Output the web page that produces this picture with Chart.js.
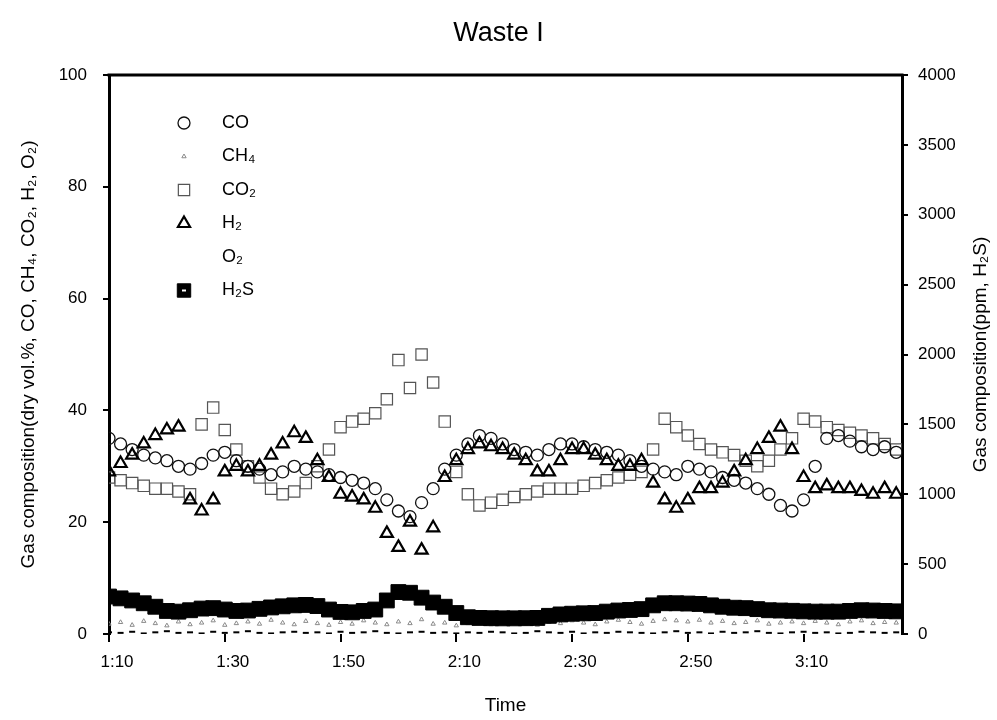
<!DOCTYPE html>
<html><head><meta charset="utf-8">
<script src="https://cdn.jsdelivr.net/npm/chart.js@4.4.0/dist/chart.umd.min.js"></script>
<style>html,body{margin:0;padding:0;background:#fff;}#wrap{width:997px;height:720px;}</style>
</head><body><div id="wrap"><canvas id="c" width="997" height="720"></canvas></div>
<script>
const chartTitle = 'Waste I';
const xAxisTitle = 'Time';
const leftAxisTitle = 'Gas composition(dry vol.%, CO, CH\u2084, CO\u2082, H\u2082, O\u2082)';
const rightAxisTitle = 'Gas composition(ppm, H\u2082S)';
const seriesNames = ['CO', 'CH\u2084', 'CO\u2082', 'H\u2082', 'O\u2082', 'H\u2082S'];
const xTickLabels = ['1:10', '1:30', '1:50', '2:10', '2:30', '2:50', '3:10'];

// minutes after midnight (1:10 = 70)
const times = [70,72,74,76,78,80,82,84,86,88,
  90,92,94,96,98,100,102,104,106,108,
  110,112,114,116,118,120,122,124,126,128,
  130,132,134,136,138,140,142,144,146,148,
  150,152,154,156,158,160,162,164,166,168,
  170,172,174,176,178,180,182,184,186,188,
  190,192,194,196,198,200,202,204,206];

const co = [35,34,33,32,31.5,31,30,29.5,30.5,32,
  32.5,31,30,29.5,28.5,29,30,29.5,29,28.5,
  28,27.5,27,26,24,22,21,23.5,26,29.5,
  32,34,35.5,35,34,33,32.5,32,33,34,
  34,33.5,33,32.5,32,31,30,29.5,29,28.5,
  30,29.5,29,28,27.5,27,26,25,23,22,
  24,30,35,35.5,34.5,33.5,33,33.5,32.5];

const ch4 = [1.8,2.1,1.6,2.3,1.9,1.5,2.2,1.7,2.0,2.4,
  1.6,1.9,2.2,1.8,2.5,2.0,1.7,2.3,1.9,1.6,
  2.1,1.8,2.4,2.0,1.7,2.2,1.9,2.6,1.8,2.0,
  1.5,1.9,2.2,1.7,2.0,2.3,1.8,1.6,2.1,1.9,
  2.4,2.0,1.7,2.2,2.5,2.1,1.8,2.3,2.6,2.4,
  2.2,2.5,2.0,2.3,1.9,2.1,2.4,1.8,2.0,2.2,
  1.9,2.3,2.0,1.7,2.2,2.4,1.9,2.1,2.0];

const co2 = [28,27.5,27,26.5,26,26,25.5,25,37.5,40.5,
  36.5,33,30,28,26,25,25.5,27,30,33,
  37,38,38.5,39.5,42,49,44,50,45,38,
  29,25,23,23.5,24,24.5,25,25.5,26,26,
  26,26.5,27,27.5,28,28.5,29,33,38.5,37,
  35.5,34,33,32.5,32,31,30,31,33,35,
  38.5,38,37,36.5,36,35.5,35,34,33];

const h2 = [29,30.5,32,34,35.5,36.5,37,24,22,24,
  29,30,29,30,32,34,36,35,31,28,
  25,24.5,24,22.5,18,15.5,20,15,19,28,
  31,33,34,33.5,33,32,31,29,29,31,
  33,33,32,31,30,30,31,27,24,22.5,
  24,26,26,27,29,31,33,35,37,33,
  28,26,26.5,26,26,25.5,25,26,25];

const o2 = [0.3,0.2,0.4,0.1,0.3,0.5,0.2,0.3,0.1,0.4,
  0.2,0.3,0.5,0.2,0.1,0.3,0.4,0.2,0.3,0.1,
  0.4,0.2,0.3,0.5,0.2,0.1,0.3,0.4,0.2,0.3,
  0.1,0.3,0.2,0.4,0.3,0.1,0.2,0.5,0.3,0.2,
  0.4,0.1,0.3,0.2,0.4,0.3,0.2,0.1,0.3,0.5,
  0.2,0.3,0.1,0.4,0.2,0.3,0.5,0.2,0.1,0.3,
  0.4,0.2,0.3,0.1,0.2,0.4,0.3,0.2,0.3];

// ppm, right axis
const h2s = [268,255,240,220,195,165,160,170,182,185,
  175,165,168,180,190,198,205,208,200,175,
  158,155,165,175,240,300,295,260,225,195,
  150,120,115,113,112,112,113,115,130,140,
  145,148,150,160,168,172,178,205,220,220,
  218,215,205,195,188,185,178,170,168,166,
  162,160,160,160,165,170,168,165,162];

const FONT = 'Liberation Sans, Arial, sans-serif';
const toMin = s => { const p = s.split(':'); return (+p[0]) * 60 + (+p[1]); };
const pts = arr => times.map((t, i) => ({x: t, y: arr[i]}));

const styles = [
  {pointStyle: 'circle', radius: 6, borderColor: '#111', bg: 'rgba(0,0,0,0)', bw: 1.3},
  {pointStyle: 'triangle', radius: 2.5, borderColor: '#8a8a8a', bg: 'rgba(0,0,0,0)', bw: 1},
  {pointStyle: 'rect', radius: 8, borderColor: '#555', bg: 'rgba(0,0,0,0)', bw: 1.2},
  {pointStyle: 'triangle', radius: 7, borderColor: '#000', bg: 'rgba(0,0,0,0)', bw: 2.2},
  {pointStyle: 'line', radius: 3, borderColor: '#000', bg: '#000', bw: 2},
  {pointStyle: 'rect', radius: 10.5, borderColor: '#000', bg: '#000', bw: 1}
];
const values = [co, ch4, co2, h2, o2, h2s];

const datasets = values.map((arr, i) => ({
  label: seriesNames[i],
  data: pts(arr),
  yAxisID: i === 5 ? 'y2' : 'y',
  pointStyle: styles[i].pointStyle,
  pointRadius: styles[i].radius,
  pointBorderColor: styles[i].borderColor,
  pointBackgroundColor: styles[i].bg,
  pointBorderWidth: styles[i].bw,
  showLine: false,
  order: [3, 5, 4, 2, 6, 1][i]
}));

function marker(ctx, st, x, y) {
  ctx.save();
  ctx.lineWidth = st.bw;
  ctx.strokeStyle = st.borderColor;
  ctx.fillStyle = st.bg;
  const r = st.radius;
  ctx.beginPath();
  if (st.pointStyle === 'circle') {
    ctx.arc(x, y, r, 0, Math.PI * 2);
  } else if (st.pointStyle === 'triangle') {
    ctx.moveTo(x, y - r);
    ctx.lineTo(x + r * 0.866, y + r * 0.5);
    ctx.lineTo(x - r * 0.866, y + r * 0.5);
    ctx.closePath();
  } else if (st.pointStyle === 'rect') {
    const s = r * Math.SQRT1_2;
    ctx.rect(x - s, y - s, 2 * s, 2 * s);
  }
  ctx.fill();
  ctx.stroke();
  ctx.restore();
}

const innerLegend = {
  id: 'innerLegend',
  afterDatasetsDraw(chart) {
    const {ctx, chartArea} = chart;
    ctx.save();
    ctx.font = '18px ' + FONT;
    ctx.fillStyle = '#000';
    ctx.textBaseline = 'middle';
    ctx.textAlign = 'left';
    seriesNames.forEach((name, i) => {
      const y = chartArea.top + 48 + i * 33.5;
      const mx = chartArea.left + 75;
      if (i !== 4) {
        const st = Object.assign({}, styles[i]);
        if (i === 5) st.radius = 9.5;
        marker(ctx, st, mx, y);
        if (i === 5) {
          ctx.fillStyle = '#fff';
          ctx.fillRect(mx - 2, y - 1, 4, 2);
          ctx.fillStyle = '#000';
        }
      }
      ctx.fillText(name, chartArea.left + 113, y);
    });
    ctx.restore();
  }
};

const frameExtras = {
  id: 'frameExtras',
  afterDraw(chart) {
    const {ctx, chartArea} = chart;
    ctx.save();
    ctx.strokeStyle = '#000';
    ctx.lineWidth = 3;
    ctx.beginPath();
    ctx.moveTo(chartArea.left - 1.5, chartArea.top);
    ctx.lineTo(chartArea.right + 1.5, chartArea.top);
    ctx.stroke();
    // right axis title, reading bottom to top
    ctx.translate(981, (chartArea.top + chartArea.bottom) / 2);
    ctx.rotate(-Math.PI / 2);
    ctx.font = '19px ' + FONT;
    ctx.fillStyle = '#000';
    ctx.textAlign = 'center';
    ctx.textBaseline = 'middle';
    ctx.fillText(rightAxisTitle, 0, 0);
    ctx.restore();
  }
};

new Chart(document.getElementById('c'), {
  type: 'scatter',
  data: {datasets},
  options: {
    responsive: false,
    animation: false,
    devicePixelRatio: 1,
    layout: {padding: 0},
    plugins: {
      legend: {display: false},
      tooltip: {enabled: false},
      title: {
        display: true, text: chartTitle, color: '#000',
        font: {family: FONT, size: 27, weight: 'normal'},
        padding: {top: 17, bottom: 25.6}
      }
    },
    scales: {
      x: {
        type: 'linear', position: 'bottom', min: 70, max: 207,
        afterFit(s) { s.height = 86; },
        afterBuildTicks(s) { s.ticks = xTickLabels.map(l => ({value: toMin(l)})); },
        ticks: {
          color: '#000', padding: 10, labelOffset: 8,
          font: {family: FONT, size: 17},
          maxRotation: 0, autoSkip: false,
          callback: v => { const k = xTickLabels.findIndex(l => toMin(l) === v); return k >= 0 ? xTickLabels[k] : ''; }
        },
        grid: {display: true, drawOnChartArea: false, drawTicks: true, tickLength: 8, color: '#000', lineWidth: 2},
        border: {display: false},
        title: {display: true, text: xAxisTitle, color: '#000', font: {family: FONT, size: 19}, padding: {top: 0, bottom: 3}}
      },
      y: {
        position: 'left', min: 0, max: 100,
        afterFit(s) { s.width = 109; },
        ticks: {stepSize: 20, color: '#000', padding: 16, font: {family: FONT, size: 17}},
        grid: {display: true, drawOnChartArea: false, drawTicks: true, tickLength: 6, color: '#000', lineWidth: 2},
        border: {display: true, color: '#000', width: 3},
        title: {display: true, text: leftAxisTitle, color: '#000', font: {family: FONT, size: 19}, padding: {top: 17, bottom: 0}}
      },
      y2: {
        position: 'right', min: 0, max: 4000,
        afterFit(s) { s.width = 95; },
        ticks: {stepSize: 500, color: '#000', padding: 10, font: {family: FONT, size: 17}, callback: v => String(v)},
        grid: {display: true, drawOnChartArea: false, drawTicks: true, tickLength: 6, color: '#000', lineWidth: 2},
        border: {display: true, color: '#000', width: 3},
        title: {display: false}
      }
    }
  },
  plugins: [innerLegend, frameExtras]
});
</script>
</body></html>
